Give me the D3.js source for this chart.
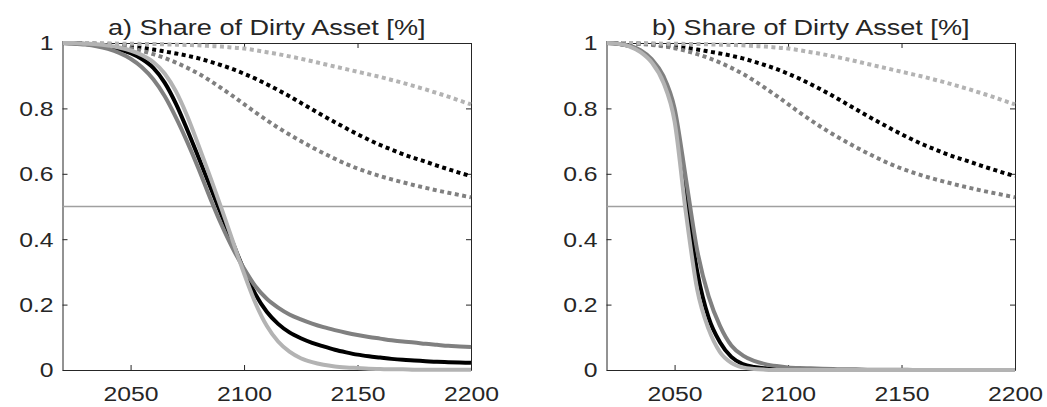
<!DOCTYPE html>
<html>
<head>
<meta charset="utf-8">
<script src="https://cdn.jsdelivr.net/npm/d3@7"></script>
<style>
  body { margin: 0; background: #fff; }
  text { font-family: "Liberation Sans", Arial, sans-serif; fill: #262626; }
</style>
</head>
<body>
<svg id="chart" width="1047" height="407"></svg>
<script>
var years = [2020, 2025, 2030, 2035, 2040, 2045, 2050, 2055, 2060, 2065, 2070, 2075, 2080,
             2085, 2090, 2095, 2100, 2105, 2110, 2115, 2120, 2125, 2130, 2135, 2140, 2145,
             2150, 2155, 2160, 2165, 2170, 2175, 2180, 2185, 2190, 2195, 2200];

var yTicks = [0, 0.2, 0.4, 0.6, 0.8, 1];
var xTicks = [2050, 2100, 2150, 2200];
var titles = ["a) Share of Dirty Asset [%]", "b) Share of Dirty Asset [%]"];

// dotted scenarios, identical in both panels
var dotBlack = [1, 1, 0.999, 0.998, 0.996, 0.993, 0.989, 0.985, 0.98, 0.974, 0.968, 0.961, 0.953,
                0.943, 0.932, 0.92, 0.906, 0.891, 0.874, 0.856, 0.837, 0.817, 0.797, 0.777, 0.758,
                0.739, 0.721, 0.704, 0.688, 0.674, 0.66, 0.648, 0.637, 0.625, 0.614, 0.603, 0.593];
var dotGray = [1, 1, 0.999, 0.997, 0.994, 0.99, 0.984, 0.976, 0.966, 0.954, 0.94, 0.924, 0.906,
               0.885, 0.862, 0.838, 0.813, 0.788, 0.764, 0.741, 0.72, 0.7, 0.681, 0.663, 0.646,
               0.63, 0.616, 0.604, 0.593, 0.583, 0.574, 0.565, 0.557, 0.549, 0.542, 0.535, 0.528];
var dotLight = [1, 1, 1, 0.999, 0.999, 0.998, 0.998, 0.997, 0.997, 0.996, 0.995, 0.994, 0.993,
                0.991, 0.989, 0.986, 0.983, 0.978, 0.972, 0.966, 0.959, 0.952, 0.944, 0.936, 0.928,
                0.92, 0.912, 0.904, 0.896, 0.887, 0.878, 0.868, 0.858, 0.847, 0.836, 0.824, 0.812];

// panel a solid lines
var aBlack = [1, 0.999, 0.997, 0.994, 0.989, 0.981, 0.969, 0.951, 0.924, 0.879, 0.814, 0.734, 0.649,
              0.562, 0.475, 0.39, 0.305, 0.232, 0.178, 0.141, 0.115, 0.097, 0.083, 0.072, 0.062,
              0.054, 0.047, 0.042, 0.038, 0.034, 0.031, 0.029, 0.027, 0.025, 0.024, 0.023, 0.022];
var aGray = [1, 0.998, 0.995, 0.99, 0.982, 0.97, 0.952, 0.926, 0.889, 0.838, 0.772, 0.697, 0.615,
             0.527, 0.445, 0.372, 0.31, 0.256, 0.218, 0.191, 0.17, 0.155, 0.142, 0.131, 0.122,
             0.114, 0.107, 0.101, 0.096, 0.091, 0.087, 0.084, 0.08, 0.077, 0.074, 0.072, 0.07];
var aLight = [1, 1, 0.998, 0.996, 0.992, 0.986, 0.977, 0.963, 0.942, 0.907, 0.852, 0.776, 0.686,
              0.592, 0.495, 0.395, 0.295, 0.205, 0.135, 0.087, 0.056, 0.036, 0.024, 0.016, 0.011,
              0.008, 0.006, 0.004, 0.003, 0.002, 0.002, 0.001, 0.001, 0.001, 0.001, 0.001, 0.001];

// panel b solid lines
var bBlack = [1, 0.998, 0.991, 0.975, 0.945, 0.89, 0.78, 0.53, 0.3, 0.16, 0.085, 0.04, 0.018,
              0.009, 0.005, 0.003, 0.002, 0.001, 0.001, 0, 0, 0, 0, 0, 0,
              0, 0, 0, 0, 0, 0, 0, 0, 0, 0, 0, 0];
var bGray = [1, 0.998, 0.992, 0.978, 0.95, 0.9, 0.8, 0.585, 0.365, 0.225, 0.135, 0.075, 0.045,
             0.028, 0.018, 0.012, 0.008, 0.006, 0.005, 0.004, 0.003, 0.002, 0.002, 0.001, 0.001,
             0.001, 0.001, 0, 0, 0, 0, 0, 0, 0, 0, 0, 0];
var bLight = [1, 0.998, 0.99, 0.972, 0.94, 0.88, 0.76, 0.48, 0.245, 0.125, 0.055, 0.022, 0.008,
              0.003, 0.001, 0, 0, 0, 0, 0, 0, 0, 0, 0, 0,
              0, 0, 0, 0, 0, 0, 0, 0, 0, 0, 0, 0];

var panels = [
  {left: 62.5, solid: [aBlack, aGray, aLight]},
  {left: 606.5, solid: [bBlack, bGray, bLight]}
];
var dotted = [dotBlack, dotGray, dotLight];
var colors = ["#000000", "#808080", "#b3b3b3"];

var plotW = 408.5, plotTop = 43, plotBottom = 370;
var stretch = 1.27; // text in the picture is wider than it is tall

var svg = d3.select("#chart");

function drawPanel(p, i) {
  var x = d3.scaleLinear().domain([2020, 2200]).range([0, plotW]);
  var y = d3.scaleLinear().domain([0, 1]).range([plotBottom - plotTop, 0]);
  var g = svg.append("g").attr("transform", "translate(" + p.left + "," + plotTop + ")");

  var line = d3.line()
    .x(function(d, j) { return x(years[j]); })
    .y(function(d) { return y(d); })
    .curve(d3.curveMonotoneX);

  // axes box with inward ticks on all four sides
  var bx = g.append("g").attr("transform", "translate(0," + y(0) + ")")
    .call(d3.axisBottom(x).tickValues(xTicks).tickSizeInner(-5).tickSizeOuter(0)
      .tickPadding(17).tickFormat(d3.format("d")));
  var tx = g.append("g")
    .call(d3.axisTop(x).tickValues(xTicks).tickSizeInner(-5).tickSizeOuter(0).tickFormat(""));
  var ly = g.append("g")
    .call(d3.axisLeft(y).tickValues(yTicks).tickSizeInner(-5).tickSizeOuter(0).tickPadding(7)
      .tickFormat(function(d) { return d === 0 || d === 1 ? String(d) : d.toFixed(1); }));
  var ry = g.append("g").attr("transform", "translate(" + plotW + ",0)")
    .call(d3.axisRight(y).tickValues(yTicks).tickSizeInner(-5).tickSizeOuter(0).tickFormat(""));

  [bx, tx, ly, ry].forEach(function(a) {
    a.selectAll("path, line").attr("stroke", "#262626").attr("stroke-width", 1);
  });
  bx.selectAll("text").attr("font-size", 19.5).attr("fill", "#262626")
    .attr("transform", "scale(" + stretch + ",1)");
  ly.selectAll("text").attr("font-size", 19.5).attr("fill", "#262626")
    .attr("dy", "0.35em")
    .attr("transform", "scale(" + stretch + ",1)");

  // the 0.5 reference line
  g.append("line")
    .attr("x1", 0).attr("x2", plotW)
    .attr("y1", y(0.5)).attr("y2", y(0.5))
    .attr("stroke", "#a0a0a0").attr("stroke-width", 1.5);

  g.selectAll(".dotted").data(dotted).enter().append("path")
    .attr("class", "dotted")
    .attr("d", line)
    .attr("fill", "none")
    .attr("stroke", function(d, j) { return colors[j]; })
    .attr("stroke-width", 4)
    .attr("stroke-dasharray", "4,3.5");

  g.selectAll(".solid").data(p.solid).enter().append("path")
    .attr("class", "solid")
    .attr("d", line)
    .attr("fill", "none")
    .attr("stroke", function(d, j) { return colors[j]; })
    .attr("stroke-width", 4);

  svg.append("text")
    .attr("transform", "translate(" + (p.left + plotW / 2) + ",34.5) scale(1.26,1)")
    .attr("text-anchor", "middle")
    .attr("font-size", 21.5)
    .attr("fill", "#000")
    .text(titles[i]);
}

panels.forEach(drawPanel);
</script>
</body>
</html>
